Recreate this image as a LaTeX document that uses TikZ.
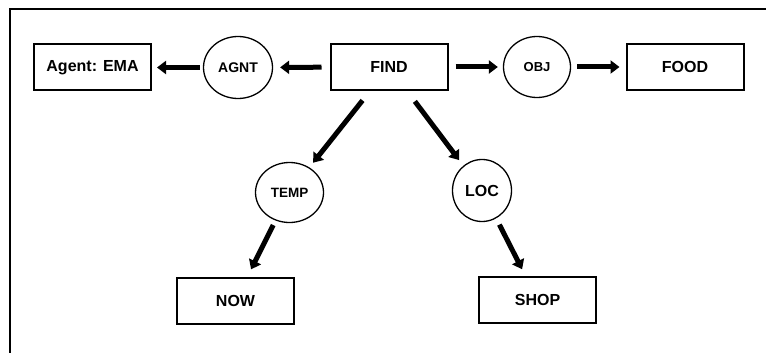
\documentclass[tikz,border=0pt]{standalone}
\usepackage{fontspec}
\setmainfont{Liberation Sans}
\usetikzlibrary{shapes.geometric,arrows.meta}
\begin{document}
\begin{tikzpicture}[x=1pt,y=-1pt,
  box/.style={draw,line width=2pt,minimum width=117pt,minimum height=46pt,inner sep=0pt,font=\bfseries\fontsize{16}{19}\selectfont},
  rel/.style={draw,ellipse,line width=1.3pt,inner sep=0pt},
  arr/.style={line width=5pt,-{Triangle[length=9pt,width=13pt]}}]
\useasboundingbox (0,0) rectangle (766,353);
\draw[line width=2.2pt] (10,353) -- (10,9) -- (766,9);
\node[box] (agent) at (92.5,67.5) {Agent: EMA};
\node[box] (find) at (389,67) {FIND};
\node[box] (food) at (685,67) {FOOD};
\node[box] (now) at (235.5,300.5) {NOW};
\node[box] (shop) at (537.5,299.5) {SHOP};
\node[rel,minimum width=69pt,minimum height=62pt,font=\bfseries\fontsize{14}{16}\selectfont] (agnt) at (238,67.5) {AGNT};
\node[rel,minimum width=67pt,minimum height=61pt,font=\bfseries\fontsize{13}{15}\selectfont] (obj) at (537,67) {OBJ};
\node[rel,minimum width=68pt,minimum height=60pt,font=\bfseries\fontsize{13.5}{15}\selectfont] (temp) at (289.5,192.5) {TEMP};
\node[rel,minimum width=59pt,minimum height=62pt,font=\bfseries\fontsize{16}{18}\selectfont] (loc) at (482,190.5) {LOC};
\draw[arr,shorten <=8pt,shorten >=7pt] (find) -- (agnt);
\draw[arr,shorten <=3pt,shorten >=5pt] (agnt) -- (agent);
\draw[arr,shorten <=7pt,shorten >=5pt] (find) -- (obj);
\draw[arr,shorten <=6pt,shorten >=6pt] (obj) -- (food);
\draw[arr,shorten <=12pt,shorten >=6pt] (find) -- (temp);
\draw[arr,shorten <=13pt,shorten >=7pt] (find) -- (loc);
\draw[arr,shorten <=5pt,shorten >=8pt] (temp) -- (now);
\draw[arr,shorten <=7pt,shorten >=7pt] (loc) -- (shop);
\end{tikzpicture}
\end{document}
